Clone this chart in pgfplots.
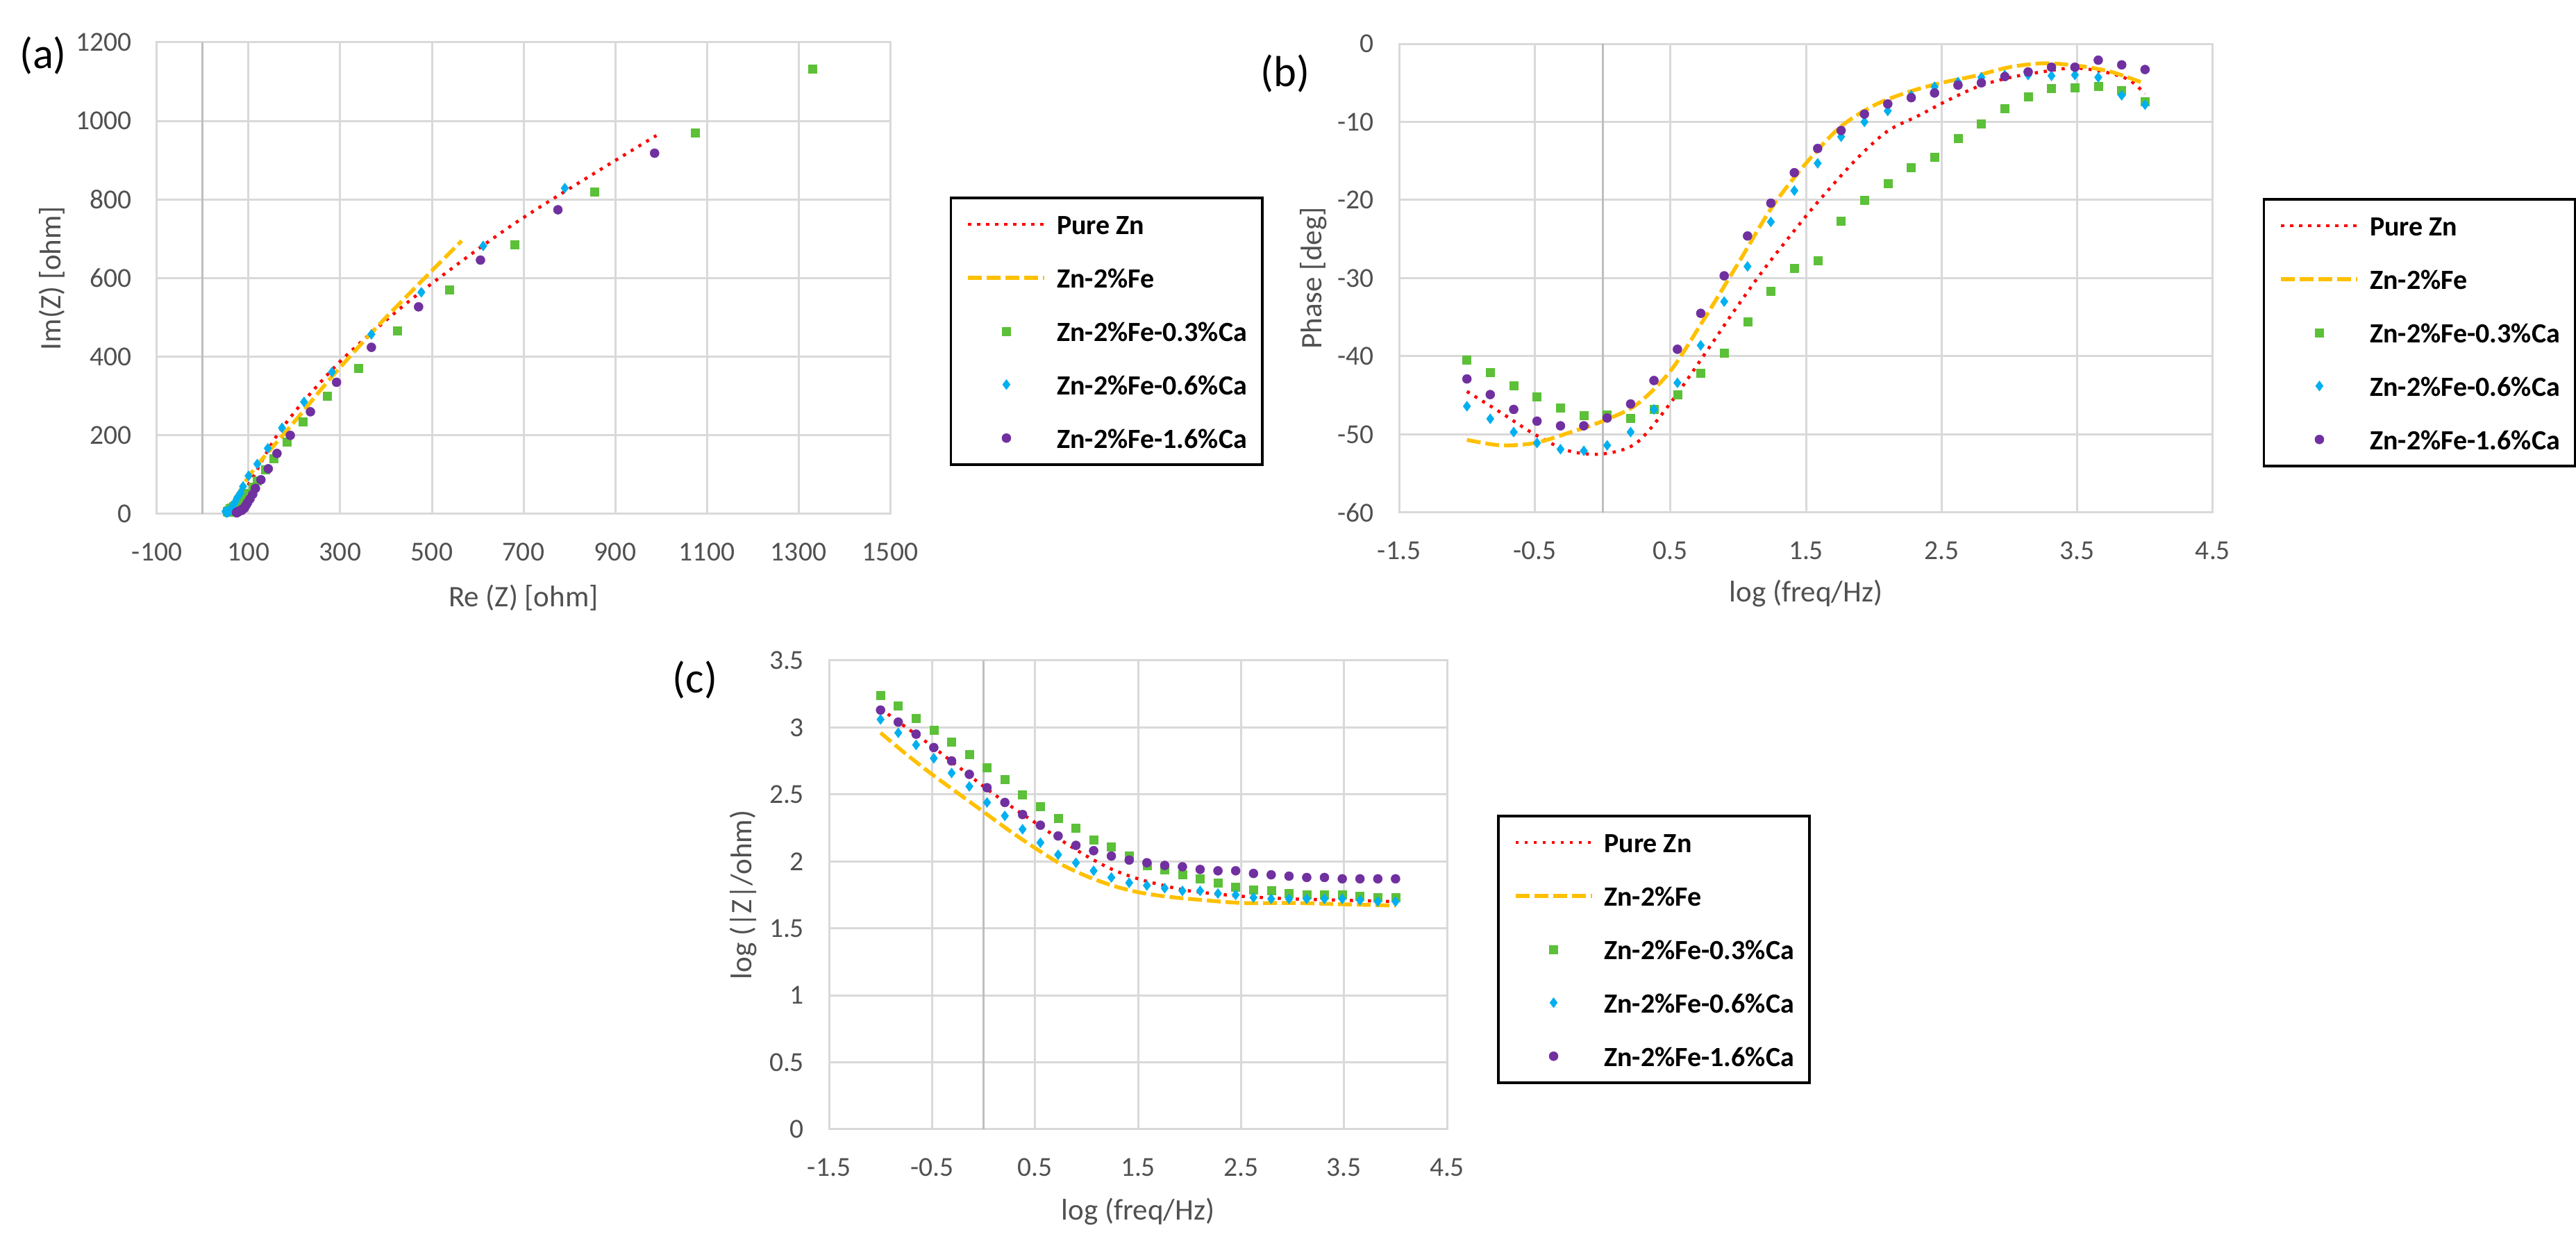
\documentclass[border=0pt]{standalone}
\usepackage{fontspec}
\setmainfont{Carlito}
\usepackage{pgfplots}
\pgfplotsset{compat=1.18}
\definecolor{cgreen}{RGB}{92,192,56}
\definecolor{ccyan}{RGB}{0,176,240}
\definecolor{cpurple}{RGB}{112,48,160}
\definecolor{cred}{RGB}{255,0,0}
\definecolor{corange}{RGB}{255,192,0}
\definecolor{gridgray}{RGB}{217,217,217}
\definecolor{axisgray}{RGB}{190,190,190}
\definecolor{txtgray}{RGB}{80,80,80}
\pgfplotsset{
 eis/.style={
  scale only axis,
  anchor=south west,
  axis line style={draw=gridgray, line width=0.6pt},
  grid=major,
  grid style={draw=gridgray, line width=0.6pt},
  major tick length=0pt,
  tick style={draw=none},
  ticklabel style={font=\fontsize{7.9}{9.5}\selectfont, text=txtgray},
  xticklabel style={anchor=center, yshift=-11pt, inner sep=0pt},
  yticklabel style={anchor=east, xshift=-7pt, inner sep=0pt},
  label style={font=\fontsize{8.6}{10}\selectfont, text=txtgray},
  xlabel style={anchor=center},
  ylabel style={anchor=center},
  extra x ticks={0},
  extra x tick labels={{}},
  extra x tick style={grid=major, major grid style={draw=axisgray, line width=0.6pt}},
  legend cell align=left,
  legend style={draw=black, line width=0.7pt, fill=white, anchor=north west,
     inner xsep=4.4pt, inner ysep=4.6pt, row sep=9.4pt, column sep=3pt,
     font=\bfseries\fontsize{8}{9.6}\selectfont,
     nodes={inner sep=0pt, text height=6pt, text depth=0pt}},
 },
 szn/.style={color=cred, line width=0.9pt, dash pattern=on 0.9pt off 1.7pt, smooth, no marks,
   legend image code/.code={\draw[##1] (0pt,0pt) -- (22pt,0pt);}},
 sfe/.style={color=corange, line width=1.1pt, dash pattern=on 4pt off 1.4pt, smooth, no marks,
   legend image code/.code={\draw[##1] (0pt,0pt) -- (22pt,0pt);}},
 sg/.style={only marks, color=cgreen, mark=square*, mark size=1.2pt, mark options={solid, fill=cgreen, draw=cgreen, line width=0.1pt},
   legend image code/.code={\path[draw=none, fill=none] (0pt,0pt) -- (22pt,0pt); \draw[##1, only marks] plot coordinates {(11pt,0pt)};}},
 sc/.style={only marks, color=ccyan, mark=diamond*, mark size=1.45pt, mark options={solid, fill=ccyan, draw=ccyan, line width=0.1pt},
   legend image code/.code={\path[draw=none, fill=none] (0pt,0pt) -- (22pt,0pt); \draw[##1, only marks] plot coordinates {(11pt,0pt)};}},
 sp/.style={only marks, color=cpurple, mark=*, mark size=1.3pt, mark options={solid, fill=cpurple, draw=cpurple, line width=0.1pt},
   legend image code/.code={\path[draw=none, fill=none] (0pt,0pt) -- (22pt,0pt); \draw[##1, only marks] plot coordinates {(11pt,0pt)};}},
}
\begin{document}
\begin{tikzpicture}
\path[use as bounding box] (0pt,0pt) rectangle (742pt,361.4pt);
\node[font=\fontsize{12.5}{14}\selectfont] at (12.4pt,345.4pt) {(a)};
\node[font=\fontsize{12.5}{14}\selectfont] at (370.2pt,340.2pt) {(b)};
\node[font=\fontsize{12.5}{14}\selectfont] at (200.2pt,165.6pt) {(c)};

% ---------------- (a) Nyquist
\begin{axis}[eis, at={(45.2pt,213.4pt)}, width=211.2pt, height=135.8pt,
  xmin=-100, xmax=1500, ymin=0, ymax=1200,
  xtick={-100,100,300,500,700,900,1100,1300,1500},
  xticklabels={-100,100,300,500,700,900,1100,1300,1500},
  ytick={0,200,400,600,800,1000,1200},
  yticklabels={0,200,400,600,800,1000,1200},
  xlabel={Re (Z) [ohm]}, ylabel={Im(Z) [ohm]},
  xlabel style={at={(axis description cs:0.5,-0.178)}},
  ylabel style={at={(axis description cs:-0.143,0.5)}},
  legend style={at={(1.0814,0.673)}}]
\addplot[szn] coordinates {(50,3) (52.4,3.8) (54.6,6.6) (59.1,11.7) (62.5,16.5) (69.5,25.6) (81,37) (92,60) (110,94) (133,143) (165,205) (221,288) (315,405) (465,555) (688,745) (990,963)};
\addlegendentry{Pure Zn}
\addplot[sfe] coordinates {(48,3) (52,7.2) (56.8,15.5) (61.7,23.6) (68.5,36.5) (80,56) (94,84) (118,123) (156,175) (209,247) (281,348) (394,493) (565,695)};
\addlegendentry{Zn-2\%Fe}
\addplot[sg] coordinates {(1330,1133) (1074,969) (855,819) (680,685) (538,570) (425,466) (340,371) (272,300) (218,234) (184,183) (155,141) (137,113) (118,84) (110,68) (96,53) (83,44) (80,34) (75,27) (71,23) (67,19) (63,16) (60,13) (59,11) (57,8) (56,7) (56,6) (56,5) (55,5) (53,6) (53,7)};
\addlegendentry{Zn-2\%Fe-0.3\%Ca}
\addplot[sc] coordinates {(790,829) (612,682) (477,564) (368,457) (282,361) (221,285) (173,219) (142,167) (119,127) (100,97) (88,70) (82,53) (75,41) (70,29) (66,22) (64,17) (62,13) (59,10.5) (60,9) (57,7) (56,5) (54,5) (52,4) (52,4) (52,4) (52,4) (52,4) (51,4) (50,6) (50,7)};
\addlegendentry{Zn-2\%Fe-0.6\%Ca}
\addplot[sp] coordinates {(986,918) (775,774) (606,646) (471,527) (368,424) (292,335) (235,260) (191,200) (162,154) (143,115) (127,87) (115,65) (109,50) (103,38) (98,29) (95,23) (92,18) (90,14) (86,12) (85,10) (85,9) (81,8) (79,7) (77,6) (76,5) (76,4) (74,4) (74,3) (74,3.5) (74,4)};
\addlegendentry{Zn-2\%Fe-1.6\%Ca}
\end{axis}

% ---------------- (b) Phase
\begin{axis}[eis, at={(403pt,213.8pt)}, width=234.4pt, height=135pt,
  xmin=-1.5, xmax=4.5, ymin=-60, ymax=0,
  xtick={-1.5,-0.5,0.5,1.5,2.5,3.5,4.5},
  xticklabels={-1.5,-0.5,0.5,1.5,2.5,3.5,4.5},
  ytick={-60,-50,-40,-30,-20,-10,0},
  yticklabels={-60,-50,-40,-30,-20,-10,0},
  xlabel={log (freq/Hz)}, ylabel={Phase [deg]},
  xlabel style={at={(axis description cs:0.5,-0.173)}},
  ylabel style={at={(axis description cs:-0.105,0.5)}},
  legend style={at={(1.0614,0.6711)}}]
\addplot[szn] coordinates {(-1,-44.5) (-0.75,-47.2) (-0.5,-50.0) (-0.25,-52.1) (0,-52.5) (0.25,-51.1) (0.5,-46.0) (0.77,-39.3) (0.95,-34.7) (1.18,-29.1) (1.41,-24.0) (1.59,-20.2) (1.87,-14.8) (2.1,-11.2) (2.33,-9.2) (2.55,-7.2) (2.78,-5.4) (3.01,-4.3) (3.24,-3.6) (3.47,-3.1) (3.7,-3.6) (3.88,-4.6) (4,-6.4)};
\addlegendentry{Pure Zn}
\addplot[sfe] coordinates {(-1,-50.7) (-0.75,-51.4) (-0.5,-51.1) (-0.25,-49.8) (0,-48.3) (0.25,-46.2) (0.5,-41.9) (0.75,-35.2) (1,-28.1) (1.25,-20.9) (1.5,-15.3) (1.75,-10.7) (2,-7.9) (2.25,-6.2) (2.5,-5.0) (2.75,-4.1) (3,-3.0) (3.25,-2.5) (3.5,-2.8) (3.75,-3.6) (4,-5.1)};
\addlegendentry{Zn-2\%Fe}
\addplot[sg] coordinates {(-1.000,-40.5) (-0.828,-42.1) (-0.655,-43.8) (-0.483,-45.2) (-0.310,-46.6) (-0.138,-47.6) (0.034,-47.5) (0.207,-47.9) (0.379,-46.8) (0.552,-44.9) (0.724,-42.2) (0.897,-39.6) (1.069,-35.6) (1.241,-31.7) (1.414,-28.7) (1.586,-27.8) (1.759,-22.7) (1.931,-20.0) (2.103,-17.9) (2.276,-15.8) (2.448,-14.5) (2.621,-12.1) (2.793,-10.2) (2.966,-8.3) (3.138,-6.8) (3.310,-5.7) (3.483,-5.6) (3.655,-5.4) (3.828,-6.0) (4.000,-7.4)};
\addlegendentry{Zn-2\%Fe-0.3\%Ca}
\addplot[sc] coordinates {(-1.000,-46.4) (-0.828,-48.0) (-0.655,-49.7) (-0.483,-51.1) (-0.310,-51.9) (-0.138,-52.1) (0.034,-51.4) (0.207,-49.7) (0.379,-46.8) (0.552,-43.4) (0.724,-38.6) (0.897,-33.0) (1.069,-28.5) (1.241,-22.8) (1.414,-18.8) (1.586,-15.3) (1.759,-11.9) (1.931,-10.0) (2.103,-8.6) (2.276,-6.6) (2.448,-5.5) (2.621,-4.9) (2.793,-4.3) (2.966,-4.0) (3.138,-4.0) (3.310,-4.1) (3.483,-4.0) (3.655,-4.3) (3.828,-6.6) (4.000,-7.8)};
\addlegendentry{Zn-2\%Fe-0.6\%Ca}
\addplot[sp] coordinates {(-1.000,-42.9) (-0.828,-44.9) (-0.655,-46.8) (-0.483,-48.3) (-0.310,-48.9) (-0.138,-48.9) (0.034,-47.9) (0.207,-46.1) (0.379,-43.1) (0.552,-39.1) (0.724,-34.5) (0.897,-29.7) (1.069,-24.6) (1.241,-20.4) (1.414,-16.5) (1.586,-13.4) (1.759,-11.1) (1.931,-9.0) (2.103,-7.7) (2.276,-6.9) (2.448,-6.3) (2.621,-5.3) (2.793,-5.0) (2.966,-4.2) (3.138,-3.6) (3.310,-3.0) (3.483,-3.0) (3.655,-2.1) (3.828,-2.7) (4.000,-3.3)};
\addlegendentry{Zn-2\%Fe-1.6\%Ca}
\end{axis}

% ---------------- (c) Bode |Z|
\begin{axis}[eis, at={(238.8pt,36.2pt)}, width=178pt, height=135pt,
  xmin=-1.5, xmax=4.5, ymin=0, ymax=3.5,
  xtick={-1.5,-0.5,0.5,1.5,2.5,3.5,4.5},
  xticklabels={-1.5,-0.5,0.5,1.5,2.5,3.5,4.5},
  ytick={0,0.5,1,1.5,2,2.5,3,3.5},
  yticklabels={0,0.5,1,1.5,2,2.5,3,3.5},
  xlabel={log (freq/Hz)}, ylabel={log (|Z|/ohm)},
  xlabel style={at={(axis description cs:0.5,-0.175)}},
  ylabel style={at={(axis description cs:-0.139,0.5)}},
  legend style={at={(1.0809,0.6711)}}]
\addplot[szn] coordinates {(-1,3.14) (-0.75,3.00) (-0.5,2.86) (-0.25,2.71) (0,2.56) (0.25,2.42) (0.5,2.29) (0.75,2.16) (1,2.04) (1.25,1.94) (1.5,1.87) (1.75,1.82) (2,1.78) (2.5,1.74) (3,1.72) (3.5,1.71) (4,1.70)};
\addlegendentry{Pure Zn}
\addplot[sfe] coordinates {(-1,2.96) (-0.75,2.80) (-0.5,2.65) (-0.25,2.51) (0,2.37) (0.25,2.23) (0.5,2.10) (0.75,1.98) (1,1.89) (1.25,1.82) (1.5,1.77) (1.75,1.74) (2,1.72) (2.5,1.69) (3,1.69) (3.5,1.68) (4,1.67)};
\addlegendentry{Zn-2\%Fe}
\addplot[sg] coordinates {(-1.000,3.24) (-0.828,3.16) (-0.655,3.07) (-0.483,2.98) (-0.310,2.89) (-0.138,2.80) (0.034,2.70) (0.207,2.61) (0.379,2.50) (0.552,2.41) (0.724,2.32) (0.897,2.25) (1.069,2.16) (1.241,2.11) (1.414,2.04) (1.586,1.97) (1.759,1.94) (1.931,1.90) (2.103,1.87) (2.276,1.84) (2.448,1.81) (2.621,1.79) (2.793,1.78) (2.966,1.76) (3.138,1.75) (3.310,1.75) (3.483,1.75) (3.655,1.74) (3.828,1.73) (4.000,1.73)};
\addlegendentry{Zn-2\%Fe-0.3\%Ca}
\addplot[sc] coordinates {(-1.000,3.06) (-0.828,2.96) (-0.655,2.87) (-0.483,2.77) (-0.310,2.66) (-0.138,2.56) (0.034,2.44) (0.207,2.34) (0.379,2.24) (0.552,2.14) (0.724,2.05) (0.897,1.99) (1.069,1.93) (1.241,1.88) (1.414,1.84) (1.586,1.82) (1.759,1.80) (1.931,1.78) (2.103,1.78) (2.276,1.76) (2.448,1.75) (2.621,1.73) (2.793,1.72) (2.966,1.72) (3.138,1.72) (3.310,1.72) (3.483,1.72) (3.655,1.71) (3.828,1.70) (4.000,1.70)};
\addlegendentry{Zn-2\%Fe-0.6\%Ca}
\addplot[sp] coordinates {(-1.000,3.13) (-0.828,3.04) (-0.655,2.95) (-0.483,2.85) (-0.310,2.75) (-0.138,2.65) (0.034,2.55) (0.207,2.44) (0.379,2.35) (0.552,2.27) (0.724,2.19) (0.897,2.12) (1.069,2.08) (1.241,2.04) (1.414,2.01) (1.586,1.99) (1.759,1.97) (1.931,1.96) (2.103,1.94) (2.276,1.93) (2.448,1.93) (2.621,1.91) (2.793,1.90) (2.966,1.89) (3.138,1.88) (3.310,1.88) (3.483,1.87) (3.655,1.87) (3.828,1.87) (4.000,1.87)};
\addlegendentry{Zn-2\%Fe-1.6\%Ca}
\end{axis}
\end{tikzpicture}
\end{document}
